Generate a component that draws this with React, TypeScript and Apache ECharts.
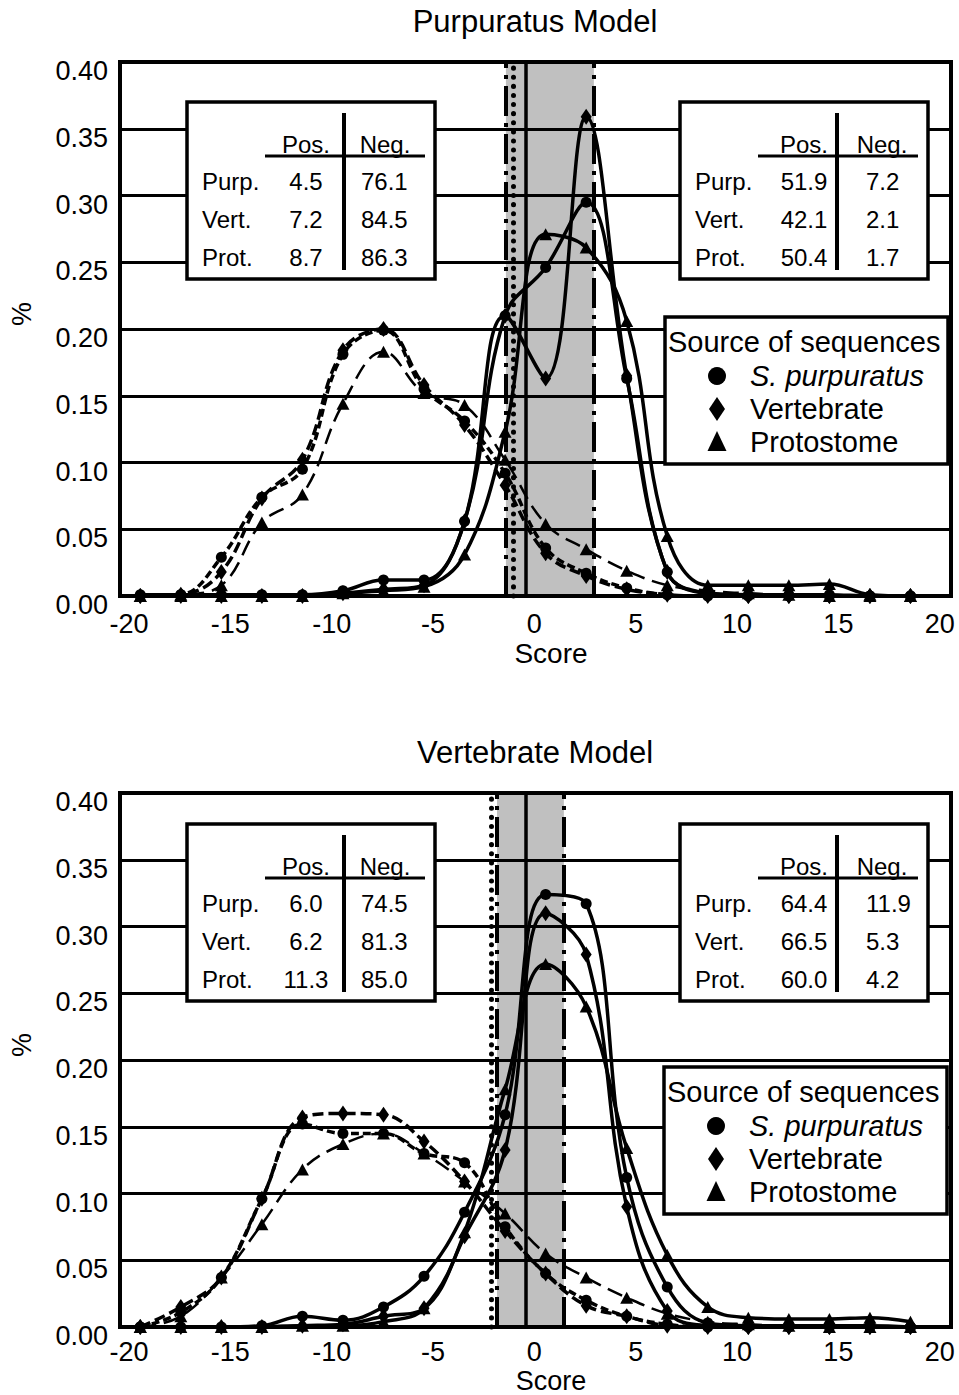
import React, { useEffect, useRef } from 'react';
import * as echarts from 'echarts';

// ---------- data ----------
const scores = [-19, -17, -15, -13, -11, -9, -7, -5, -3, -1, 1, 3, 5, 7, 9, 11, 13, 15, 17, 19];

const chartTitles = ['Purpuratus Model', 'Vertebrate Model'];
const xAxisName = 'Score';
const yAxisName = '%';

// Purpuratus model (top)
const topPurpNeg = [0, 0.001, 0.029, 0.074, 0.095, 0.181, 0.199, 0.155, 0.131, 0.092, 0.036, 0.017, 0.006, 0.001, 0, 0, 0, 0, 0, 0];
const topVertNeg = [0, 0.001, 0.018, 0.073, 0.102, 0.184, 0.2, 0.158, 0.128, 0.083, 0.032, 0.015, 0.005, 0.001, 0, 0, 0, 0, 0, 0];
const topProtNeg = [0, 0.001, 0.008, 0.055, 0.076, 0.144, 0.183, 0.152, 0.143, 0.102, 0.054, 0.035, 0.019, 0.008, 0.004, 0.002, 0.001, 0, 0, 0];
const topPurpPos = [0.001, 0.001, 0.001, 0.001, 0.001, 0.004, 0.012, 0.012, 0.056, 0.21, 0.246, 0.295, 0.163, 0.018, 0.002, 0.001, 0.001, 0.001, 0, 0];
const topVertPos = [0, 0, 0, 0, 0, 0.002, 0.005, 0.008, 0.056, 0.21, 0.163, 0.359, 0.165, 0.018, 0.002, 0, 0, 0, 0, 0];
const topProtPos = [0, 0, 0, 0, 0, 0.002, 0.004, 0.007, 0.031, 0.123, 0.271, 0.261, 0.206, 0.045, 0.008, 0.008, 0.008, 0.009, 0.001, 0];

// Vertebrate model (bottom)
const botPurpNeg = [0, 0.011, 0.037, 0.096, 0.152, 0.145, 0.145, 0.13, 0.123, 0.075, 0.04, 0.02, 0.008, 0.002, 0, 0, 0, 0, 0, 0];
const botVertNeg = [0, 0.015, 0.037, 0.096, 0.157, 0.16, 0.159, 0.139, 0.109, 0.072, 0.04, 0.016, 0.008, 0.001, 0, 0, 0, 0, 0, 0];
const botProtNeg = [0, 0.008, 0.037, 0.077, 0.118, 0.137, 0.145, 0.13, 0.109, 0.085, 0.055, 0.037, 0.022, 0.01, 0.004, 0.002, 0.001, 0, 0, 0];
const botPurpPos = [0, 0, 0, 0.001, 0.008, 0.005, 0.015, 0.038, 0.086, 0.159, 0.324, 0.317, 0.112, 0.03, 0.003, 0.001, 0.001, 0.001, 0.001, 0];
const botVertPos = [0, 0, 0, 0, 0.001, 0.002, 0.008, 0.014, 0.068, 0.1325, 0.31, 0.279, 0.09, 0.012, 0.001, 0, 0, 0, 0, 0];
const botProtPos = [0, 0, 0, 0, 0.001, 0.001, 0.004, 0.014, 0.071, 0.178, 0.272, 0.24, 0.134, 0.054, 0.015, 0.007, 0.006, 0.006, 0.007, 0.004];

// thresholds (score units)
const topBand = [-0.96, 3.38];
const topDotted = -0.62;
const botBand = [-1.4, 1.9];
const botDotted = -1.7;
const zeroLine = 0;

// tables
const rowLabels = ['Purp.', 'Vert.', 'Prot.'];
const colHeads = ['Pos.', 'Neg.'];
const topLeftPos = ['4.5', '7.2', '8.7'];
const topLeftNeg = ['76.1', '84.5', '86.3'];
const topRightPos = ['51.9', '42.1', '50.4'];
const topRightNeg = ['7.2', '2.1', '1.7'];
const botLeftPos = ['6.0', '6.2', '11.3'];
const botLeftNeg = ['74.5', '81.3', '85.0'];
const botRightPos = ['64.4', '66.5', '60.0'];
const botRightNeg = ['11.9', '5.3', '4.2'];

const legendTitle = 'Source of sequences';
const legendNames = ['S. purpuratus', 'Vertebrate', 'Protostome'];

// ---------- styling ----------
const FONT = "'Liberation Sans', Arial, Helvetica, sans-serif";
const GRIDS = [
  { left: 120, top: 62, width: 831, height: 534 },
  { left: 120, top: 793, width: 831, height: 534 },
];

const symbols = ['circle', 'diamond', 'triangle'];
const symbolSizes: any[] = [11, [11, 16], [13, 12]];
const negDash: any[] = [[8, 4], [11, 5], [16, 8]];
const negWidth = [3.5, 3.5, 2.5];

function lineSeries(values: number[], kind: number, neg: boolean, gi: number) {
  return {
    type: 'line',
    xAxisIndex: gi,
    yAxisIndex: gi,
    data: scores.map((s, i) => [s, values[i]]),
    smooth: 0.4,
    symbol: symbols[kind],
    symbolSize: symbolSizes[kind],
    showAllSymbol: true,
    z: 2,
    itemStyle: { color: '#000' },
    lineStyle: neg
      ? { color: '#000', width: negWidth[kind], type: negDash[kind] }
      : { color: '#000', width: 3.5, type: 'solid' },
    silent: true,
  };
}

function bandSeries(gi: number, band: number[], dotted: number) {
  const dashDot = [30, 7, 4, 7];
  return {
    type: 'line',
    xAxisIndex: gi,
    yAxisIndex: gi,
    data: [],
    z: 0,
    silent: true,
    markArea: {
      silent: true,
      z: 0,
      itemStyle: { color: '#c0c0c0' },
      data: [[{ xAxis: band[0] }, { xAxis: band[1] }]],
    },
    markLine: {
      silent: true,
      z: 1,
      symbol: ['none', 'none'],
      label: { show: false },
      data: [
        { xAxis: band[0], lineStyle: { color: '#000', width: 4, type: dashDot } },
        { xAxis: band[1], lineStyle: { color: '#000', width: 4, type: dashDot } },
        { xAxis: dotted, lineStyle: { color: '#000', width: 5, type: [0.1, 9], cap: 'round' } },
        { xAxis: zeroLine, lineStyle: { color: '#000', width: 3.5, type: 'solid' } },
      ],
    },
  };
}

function txt(text: string, x: number, y: number, size: number, align = 'left', extra: any = {}) {
  return {
    type: 'text',
    x,
    y,
    z: 22,
    silent: true,
    style: {
      text,
      fill: '#000',
      fontSize: size,
      fontFamily: FONT,
      align,
      verticalAlign: 'middle',
      ...extra,
    },
  };
}

function table(bx: number, by: number, pos: string[], neg: string[], posDx: number, negDx: number, negHeadDx: number) {
  const els: any[] = [];
  els.push({
    type: 'rect',
    z: 20,
    silent: true,
    shape: { x: bx, y: by, width: 248, height: 177 },
    style: { fill: '#fff', stroke: '#000', lineWidth: 3.5 },
  });
  els.push({
    type: 'line', z: 21, silent: true,
    shape: { x1: bx + 78, y1: by + 54, x2: bx + 238, y2: by + 54 },
    style: { stroke: '#000', lineWidth: 3 },
  });
  els.push({
    type: 'line', z: 21, silent: true,
    shape: { x1: bx + 157, y1: by + 11, x2: bx + 157, y2: by + 168 },
    style: { stroke: '#000', lineWidth: 4 },
  });
  els.push(txt(colHeads[0], bx + posDx, by + 42, 24, 'center'));
  els.push(txt(colHeads[1], bx + negHeadDx, by + 42, 24, 'center'));
  const rowsY = [79, 117, 155];
  rowLabels.forEach((r, i) => {
    els.push(txt(r, bx + 15, by + rowsY[i], 24, 'left'));
    els.push(txt(pos[i], bx + posDx, by + rowsY[i], 24, 'center'));
    els.push(txt(neg[i], bx + negDx, by + rowsY[i], 24, 'left'));
  });
  return els;
}

function legendBox(bx: number, by: number) {
  const els: any[] = [];
  els.push({
    type: 'rect', z: 20, silent: true,
    shape: { x: bx, y: by, width: 283, height: 147 },
    style: { fill: '#fff', stroke: '#000', lineWidth: 3.5 },
  });
  els.push(txt(legendTitle, bx + 3, by + 25, 29, 'left'));
  const rows = [by + 59, by + 92, by + 125];
  const mx = bx + 52;
  els.push({ type: 'circle', z: 21, silent: true, shape: { cx: mx, cy: rows[0], r: 9 }, style: { fill: '#000' } });
  els.push({
    type: 'polygon', z: 21, silent: true,
    shape: { points: [[mx, rows[1] - 12], [mx + 8, rows[1]], [mx, rows[1] + 12], [mx - 8, rows[1]]] },
    style: { fill: '#000' },
  });
  els.push({
    type: 'polygon', z: 21, silent: true,
    shape: { points: [[mx, rows[2] - 11], [mx + 9.5, rows[2] + 9], [mx - 9.5, rows[2] + 9]] },
    style: { fill: '#000' },
  });
  legendNames.forEach((n, i) => {
    els.push(txt(n, bx + 85, rows[i], 29, 'left', i === 0 ? { fontStyle: 'italic' } : {}));
  });
  return els;
}

function buildOption() {
  const series: any[] = [];
  const sets = [
    { neg: [topPurpNeg, topVertNeg, topProtNeg], pos: [topPurpPos, topVertPos, topProtPos], band: topBand, dotted: topDotted },
    { neg: [botPurpNeg, botVertNeg, botProtNeg], pos: [botPurpPos, botVertPos, botProtPos], band: botBand, dotted: botDotted },
  ];
  sets.forEach((s, gi) => {
    series.push(bandSeries(gi, s.band, s.dotted));
    s.neg.forEach((v, k) => series.push(lineSeries(v, k, true, gi)));
    s.pos.forEach((v, k) => series.push(lineSeries(v, k, false, gi)));
  });

  const graphic: any[] = [];
  const scoreY = [653, 1381];
  const scoreSize = [28, 27];
  GRIDS.forEach((g, gi) => {
    graphic.push(txt(chartTitles[gi], 535, g.top - 41, 31, 'center'));
    graphic.push(txt(xAxisName, 551, scoreY[gi], scoreSize[gi], 'center'));
    graphic.push({
      type: 'text', x: 22, y: g.top + 252, rotation: Math.PI / 2, z: 22, silent: true,
      style: { text: yAxisName, fill: '#000', fontSize: 27, fontFamily: FONT, align: 'center', verticalAlign: 'middle' },
    });
  });
  graphic.push(...table(187, 102, topLeftPos, topLeftNeg, 119, 174, 198));
  graphic.push(...table(680, 102, topRightPos, topRightNeg, 124, 186, 202));
  graphic.push(...legendBox(665, 317));
  graphic.push(...table(187, 824, botLeftPos, botLeftNeg, 119, 174, 198));
  graphic.push(...table(680, 824, botRightPos, botRightNeg, 124, 186, 202));
  graphic.push(...legendBox(664, 1067));

  const labelMargins = [14, 11];

  return {
    animation: false,
    backgroundColor: '#fff',
    grid: GRIDS.map((g) => ({
      ...g,
      show: true,
      z: 3,
      borderColor: '#000',
      borderWidth: 4,
      backgroundColor: 'transparent',
      containLabel: false,
    })),
    xAxis: GRIDS.map((_, gi) => ({
      type: 'value',
      gridIndex: gi,
      min: -20,
      max: 21,
      interval: 5,
      axisLine: { show: false },
      axisTick: { show: false },
      splitLine: { show: false },
      axisLabel: {
        color: '#000',
        fontSize: 27,
        fontFamily: FONT,
        margin: labelMargins[gi],
        padding: [0, 0, 0, 18],
        showMaxLabel: false,
        formatter: (v: number) => (Math.abs(v % 5) < 1e-9 ? String(v) : ''),
      },
    })),
    yAxis: GRIDS.map((_, gi) => ({
      type: 'value',
      gridIndex: gi,
      min: 0,
      max: 0.4,
      interval: 0.05,
      z: 1,
      axisLine: { show: false },
      axisTick: { show: false },
      splitLine: { show: true, lineStyle: { color: '#000', width: 3 } },
      axisLabel: {
        color: '#000',
        fontSize: 27,
        fontFamily: FONT,
        margin: 12,
        verticalAlign: 'top',
        lineHeight: 18,
        formatter: (v: number) => v.toFixed(2),
      },
    })),
    series,
    graphic,
  };
}

export default function App() {
  const ref = useRef<HTMLDivElement>(null);
  useEffect(() => {
    const chart = echarts.init(ref.current as HTMLDivElement, null, { renderer: 'svg' });
    chart.setOption(buildOption() as any);
    return () => chart.dispose();
  }, []);
  return (
    <div
      ref={ref}
      style={{ position: 'absolute', left: 0, top: 0, width: 959, height: 1395, background: '#fff' }}
    />
  );
}
